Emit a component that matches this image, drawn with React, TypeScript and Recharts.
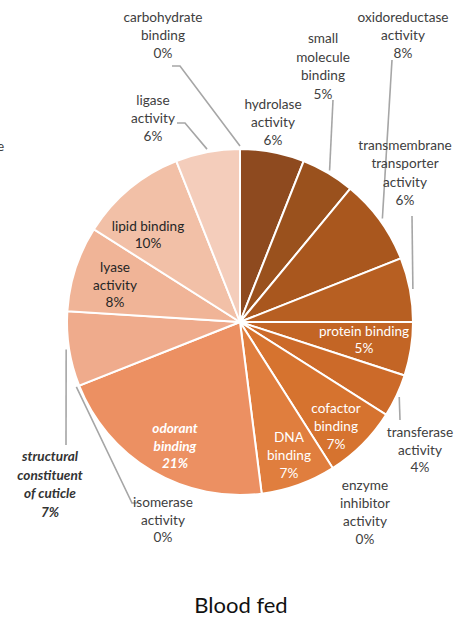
import { PieChart, Pie, Cell } from 'recharts';

const CATEGORIES = [
  'hydrolase activity',
  'small molecule binding',
  'oxidoreductase activity',
  'transmembrane transporter activity',
  'protein binding',
  'transferase activity',
  'cofactor binding',
  'enzyme inhibitor activity',
  'DNA binding',
  'odorant binding',
  'isomerase activity',
  'structural constituent of cuticle',
  'lyase activity',
  'lipid binding',
  'ligase activity',
  'carbohydrate binding',
];

const SHARES = [6, 5, 8, 6, 5, 4, 7, 0, 7, 21, 0, 7, 8, 10, 6, 0];

const COLORS = [
  '#8e4a1f', '#9a511d', '#a9571e', '#b75f22', '#c36525', '#cc6a29', '#d6732f', '#da7833',
  '#e07e3e', '#ec9062', '#ed9d74', '#efab8c', '#f0b497', '#f2c0a7', '#f4cdbb', '#f6d6c8',
];

// how each slice's label is split into lines
const LABEL_LINES = [
  ['hydrolase', 'activity'],
  ['small', 'molecule', 'binding'],
  ['oxidoreductase', 'activity'],
  ['transmembrane', 'transporter', 'activity'],
  ['protein binding'],
  ['transferase', 'activity'],
  ['cofactor', 'binding'],
  ['enzyme', 'inhibitor', 'activity'],
  ['DNA', 'binding'],
  ['odorant', 'binding'],
  ['isomerase', 'activity'],
  ['structural', 'constituent', 'of cuticle'],
  ['lyase', 'activity'],
  ['lipid binding'],
  ['ligase', 'activity'],
  ['carbohydrate', 'binding'],
];

const data = CATEGORIES.map((name, i) => ({ name, value: SHARES[i] }));

const OUT = '#404040';
const RAD = Math.PI / 180;

type Placement = {
  x: number;
  y: number;
  lh: number;
  fill: string;
  weight?: number;
  italic?: boolean;
  leader?: [number, number][];
};

// label placement (Excel labels were dragged by hand)
const PLACEMENT: Placement[] = [
  { x: 273, y: 109, lh: 18, fill: OUT },
  { x: 323, y: 43, lh: 18.5, fill: OUT, leader: [[333, 100]] },
  { x: 403, y: 22, lh: 18, fill: OUT, leader: [[392, 60]] },
  { x: 405, y: 150, lh: 18.3, fill: OUT, leader: [[412, 216]] },
  { x: 364, y: 336, lh: 17, fill: '#ffffff' },
  { x: 420, y: 437, lh: 17.5, fill: OUT, leader: [[400, 420]] },
  { x: 336, y: 413, lh: 18, fill: '#ffffff' },
  { x: 365, y: 490, lh: 18, fill: OUT },
  { x: 289, y: 442, lh: 18, fill: '#ffffff' },
  { x: 175, y: 433, lh: 17.5, fill: '#ffffff', weight: 700, italic: true },
  { x: 163, y: 507, lh: 17.5, fill: OUT, leader: [[132, 503], [137, 503]] },
  { x: 50, y: 461, lh: 18.7, fill: '#333333', weight: 700, italic: true, leader: [[66, 445]] },
  { x: 115, y: 272, lh: 17.5, fill: '#262626' },
  { x: 148, y: 231, lh: 16.5, fill: '#262626' },
  { x: 153, y: 105, lh: 18, fill: OUT, leader: [[185, 123], [177, 123]] },
  { x: 163, y: 22, lh: 18, fill: OUT, leader: [[180, 66], [172, 66]] },
];

const renderLabel = (props: any) => {
  const { cx, cy, midAngle, outerRadius, index } = props;
  const p = PLACEMENT[index];
  const lines = [...LABEL_LINES[index], `${SHARES[index]}%`];
  let leader = null;
  if (p.leader) {
    const r = outerRadius + 3;
    const ex = cx + r * Math.cos(-midAngle * RAD);
    const ey = cy + r * Math.sin(-midAngle * RAD);
    const pts = [[ex, ey], ...p.leader].map((q) => q.join(',')).join(' ');
    leader = <polyline points={pts} fill="none" stroke="#a6a6a6" strokeWidth={1.6} />;
  }
  return (
    <g key={`label-${index}`}>
      {leader}
      <text
        textAnchor="middle"
        fill={p.fill}
        fontSize={13.6}
        fontWeight={p.weight ?? 400}
        fontStyle={p.italic ? 'italic' : 'normal'}
        fontFamily="Lato, sans-serif"
      >
        {lines.map((l, i) => (
          <tspan key={i} x={p.x} y={p.y + i * p.lh}>
            {l}
          </tspan>
        ))}
      </text>
    </g>
  );
};

export default function App() {
  return (
    <div style={{ position: 'absolute', left: 0, top: 0, width: 457, height: 618, background: '#fff' }}>
      <PieChart width={457} height={618} margin={{ top: 0, right: 0, bottom: 0, left: 0 }}>
        <Pie
          data={data}
          dataKey="value"
          nameKey="name"
          cx={240}
          cy={322}
          outerRadius={173}
          startAngle={90}
          endAngle={-270}
          stroke="#ffffff"
          strokeWidth={2}
          labelLine={false}
          label={renderLabel}
          isAnimationActive={false}
        >
          {data.map((entry, index) => (
            <Cell key={`cell-${index}`} fill={COLORS[index % COLORS.length]} />
          ))}
        </Pie>
      </PieChart>
      <svg
        width={457}
        height={618}
        style={{ position: 'absolute', left: 0, top: 0, pointerEvents: 'none' }}
      >
        <text x={-3} y={151} fontSize={13.6} fill={OUT} fontFamily="Lato, sans-serif">
          e
        </text>
        <text x={241} y={613} textAnchor="middle" fontSize={22} fill="#111" fontFamily="Lato, sans-serif">
          Blood fed
        </text>
      </svg>
    </div>
  );
}
